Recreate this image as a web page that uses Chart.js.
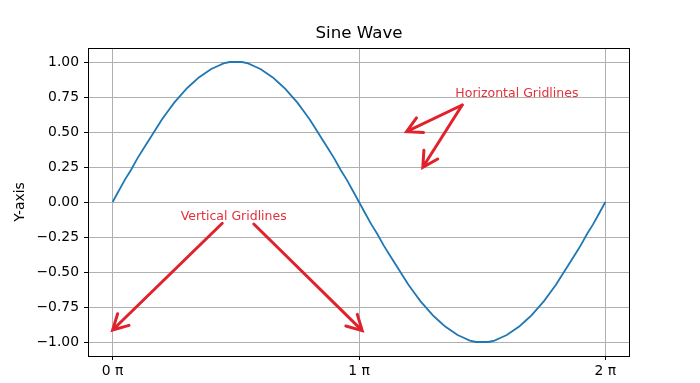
<!DOCTYPE html>
<html>
<head>
<meta charset="utf-8">
<script src="https://cdn.jsdelivr.net/npm/chart.js@4"></script>
<style>
  html, body { margin: 0; padding: 0; background: #fff; }
  #wrap { width: 700px; height: 383px; }
</style>
</head>
<body>
<div id="wrap"><canvas id="chart"></canvas></div>
<script>
// x in multiples of pi
var xs = [0, 0.025, 0.05, 0.075, 0.1, 0.125, 0.15, 0.175, 0.2, 0.225, 0.25, 0.275, 0.3, 0.325, 0.35, 0.375, 0.4, 0.425, 0.45, 0.475,
          0.5, 0.525, 0.55, 0.575, 0.6, 0.625, 0.65, 0.675, 0.7, 0.725, 0.75, 0.775, 0.8, 0.825, 0.85, 0.875, 0.9, 0.925, 0.95, 0.975,
          1, 1.025, 1.05, 1.075, 1.1, 1.125, 1.15, 1.175, 1.2, 1.225, 1.25, 1.275, 1.3, 1.325, 1.35, 1.375, 1.4, 1.425, 1.45, 1.475,
          1.5, 1.525, 1.55, 1.575, 1.6, 1.625, 1.65, 1.675, 1.7, 1.725, 1.75, 1.775, 1.8, 1.825, 1.85, 1.875, 1.9, 1.925, 1.95, 1.975, 2];
var ys = [0.00, 0.08, 0.16, 0.23, 0.31, 0.38, 0.45, 0.52, 0.59, 0.65, 0.71, 0.76, 0.81, 0.85, 0.89, 0.92, 0.95, 0.97, 0.99, 1.00,
          1.00, 1.00, 0.99, 0.97, 0.95, 0.92, 0.89, 0.85, 0.81, 0.76, 0.71, 0.65, 0.59, 0.52, 0.45, 0.38, 0.31, 0.23, 0.16, 0.08,
          0.00, -0.08, -0.16, -0.23, -0.31, -0.38, -0.45, -0.52, -0.59, -0.65, -0.71, -0.76, -0.81, -0.85, -0.89, -0.92, -0.95, -0.97, -0.99, -1.00,
          -1.00, -1.00, -0.99, -0.97, -0.95, -0.92, -0.89, -0.85, -0.81, -0.76, -0.71, -0.65, -0.59, -0.52, -0.45, -0.38, -0.31, -0.23, -0.16, -0.08, 0.00];
var xTicks = [0, 1, 2];
var yTicks = [-1, -0.75, -0.5, -0.25, 0, 0.25, 0.5, 0.75, 1];

// annotation labels and arrows (data coords: x in pi units)
var notes = [
    { text: 'Horizontal Gridlines', x: 1.391, y: 0.771 },
    { text: 'Vertical Gridlines', x: 0.276, y: -0.107 }
];
var arrows = [
    { from: [1.419, 0.693], to: [1.193, 0.502] },
    { from: [1.419, 0.693], to: [1.259, 0.248] },
    { from: [0.445, -0.152], to: [0, -0.914] },
    { from: [0.573, -0.157], to: [1.013, -0.919] }
];

var points = xs.map(function(x, i) { return { x: x, y: ys[i] }; });
var FONT = 'DejaVu Sans';

var frame = {
    id: 'frame',
    afterDraw: function(chart) {
        var ctx = chart.ctx, a = chart.chartArea;
        var l = Math.round(a.left), t = Math.round(a.top), r = Math.round(a.right), b = Math.round(a.bottom);
        ctx.save();
        ctx.strokeStyle = '#000';
        ctx.lineWidth = 1;
        ctx.strokeRect(l + 0.5, t + 0.5, r - l - 1, b - t);
        // title over the plot area
        ctx.fillStyle = '#000';
        ctx.font = '16.7px "' + FONT + '"';
        ctx.textAlign = 'center';
        ctx.textBaseline = 'middle';
        ctx.fillText('Sine Wave', (a.left + a.right) / 2, 34);
        ctx.restore();
    }
};

var annot = {
    id: 'annot',
    afterDatasetsDraw: function(chart) {
        var ctx = chart.ctx, sx = chart.scales.x, sy = chart.scales.y;
        ctx.save();
        ctx.strokeStyle = '#e0222c';
        ctx.lineWidth = 3;
        ctx.lineCap = 'round';
        arrows.forEach(function(ar) {
            var x1 = sx.getPixelForValue(ar.from[0]), y1 = sy.getPixelForValue(ar.from[1]);
            var x2 = sx.getPixelForValue(ar.to[0]), y2 = sy.getPixelForValue(ar.to[1]);
            var ang = Math.atan2(y1 - y2, x1 - x2);
            ctx.beginPath();
            ctx.moveTo(x1, y1);
            ctx.lineTo(x2, y2);
            ctx.moveTo(x2 + 17 * Math.cos(ang - 0.5), y2 + 17 * Math.sin(ang - 0.5));
            ctx.lineTo(x2, y2);
            ctx.lineTo(x2 + 17 * Math.cos(ang + 0.5), y2 + 17 * Math.sin(ang + 0.5));
            ctx.stroke();
        });
        ctx.fillStyle = '#e4313b';
        ctx.font = '12.5px "' + FONT + '"';
        ctx.textBaseline = 'middle';
        ctx.textAlign = 'left';
        notes.forEach(function(n) {
            ctx.fillText(n.text, sx.getPixelForValue(n.x), sy.getPixelForValue(n.y));
        });
        ctx.restore();
    }
};

new Chart(document.getElementById('chart'), {
    type: 'line',
    data: {
        datasets: [{
            data: points,
            borderColor: '#1f77b4',
            borderWidth: 1.8,
            pointRadius: 0,
            tension: 0,
            fill: false
        }]
    },
    options: {
        responsive: true,
        maintainAspectRatio: false,
        animation: false,
        layout: { padding: { left: 0, right: 70, top: 48, bottom: 0 } },
        plugins: {
            legend: { display: false },
            tooltip: { enabled: false },
            title: { display: false }
        },
        scales: {
            x: {
                type: 'linear',
                min: -0.1,
                max: 2.1,
                afterBuildTicks: function(scale) { scale.ticks = xTicks.map(function(v) { return { value: v }; }); },
                afterFit: function(scale) { scale.height = 27; },
                grid: { color: '#b0b0b0', tickColor: '#000', tickLength: 4, lineWidth: 1 },
                border: { display: false },
                ticks: {
                    color: '#000',
                    padding: 3,
                    maxRotation: 0,
                    font: { family: FONT, size: 13.9 },
                    callback: function(v) { return v + ' \u03c0'; }
                }
            },
            y: {
                min: -1.1,
                max: 1.1,
                afterBuildTicks: function(scale) { scale.ticks = yTicks.map(function(v) { return { value: v }; }); },
                afterFit: function(scale) { scale.width = 88; },
                grid: { color: '#b0b0b0', tickColor: '#000', tickLength: 4, lineWidth: 1 },
                border: { display: false },
                title: {
                    display: true,
                    text: 'Y-axis',
                    color: '#000',
                    font: { family: FONT, size: 13.9 },
                    padding: { top: 12, bottom: 0 }
                },
                ticks: {
                    color: '#000',
                    padding: 5,
                    font: { family: FONT, size: 13.9 },
                    callback: function(v) { return v.toFixed(2).replace('-', '\u2212'); }
                }
            }
        }
    },
    plugins: [frame, annot]
});
</script>
</body>
</html>
